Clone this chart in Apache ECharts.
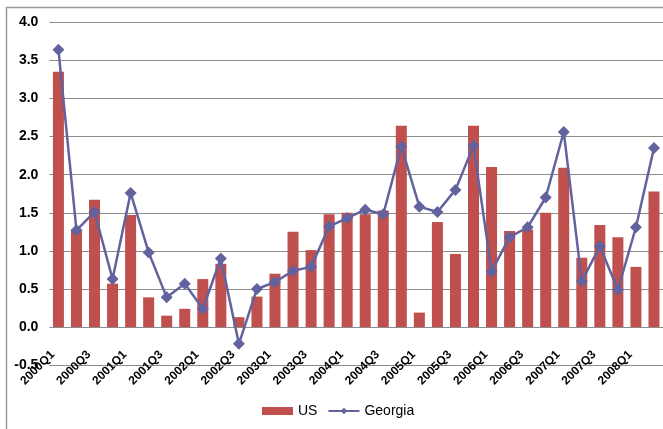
<!DOCTYPE html>
<html>
<head>
<meta charset="utf-8">
<script src="https://cdn.jsdelivr.net/npm/echarts@6/dist/echarts.min.js"></script>
<style>
  html, body { margin: 0; padding: 0; background: #ffffff; }
  #chart { width: 663px; height: 429px; }
</style>
</head>
<body>
<div id="chart"></div>
<script>
// Quarterly growth, US vs Georgia, 2000Q1 - 2008Q2
const quarters = [
  '2000Q1','2000Q2','2000Q3','2000Q4',
  '2001Q1','2001Q2','2001Q3','2001Q4',
  '2002Q1','2002Q2','2002Q3','2002Q4',
  '2003Q1','2003Q2','2003Q3','2003Q4',
  '2004Q1','2004Q2','2004Q3','2004Q4',
  '2005Q1','2005Q2','2005Q3','2005Q4',
  '2006Q1','2006Q2','2006Q3','2006Q4',
  '2007Q1','2007Q2','2007Q3','2007Q4',
  '2008Q1','2008Q2'
];

const usValues = [
  3.35, 1.28, 1.67, 0.57,
  1.47, 0.39, 0.15, 0.24,
  0.63, 0.83, 0.13, 0.40,
  0.70, 1.25, 1.01, 1.48,
  1.50, 1.48, 1.53, 2.64,
  0.19, 1.38, 0.96, 2.64,
  2.10, 1.26, 1.28, 1.50,
  2.09, 0.91, 1.34, 1.18,
  0.79, 1.78
];

const georgiaValues = [
  3.64, 1.27, 1.51, 0.63,
  1.76, 0.98, 0.39, 0.57,
  0.24, 0.90, -0.22, 0.50,
  0.59, 0.74, 0.79, 1.32,
  1.43, 1.54, 1.48, 2.37,
  1.58, 1.51, 1.80, 2.38,
  0.73, 1.18, 1.31, 1.70,
  2.56, 0.60, 1.06, 0.49,
  1.31, 2.35
];

const yTicks = { min: -0.5, max: 4.0, step: 0.5 };

// Plot box; the category labels hang from the zero line, which sits
// one tick step above the bottom edge of the plot.
const plot = { left: 49.4, top: 22.2, width: 619, height: 343 };
const zeroOffset = plot.height * (0 - yTicks.min) / (yTicks.max - yTicks.min);

const chart = echarts.init(document.getElementById('chart'), null, { renderer: 'canvas' });

chart.setOption({
  backgroundColor: '#ffffff',
  animation: false,
  textStyle: { fontFamily: '"Liberation Sans", Arial, sans-serif' },
  graphic: [{
    type: 'rect',
    silent: true,
    z: -1,
    shape: { x: 6.5, y: 7.5, width: 720, height: 500 },
    style: { fill: 'none', stroke: '#9a9a9a', lineWidth: 1.5 }
  }],
  grid: { left: plot.left, top: plot.top, width: plot.width, height: plot.height, containLabel: false },
  legend: {
    bottom: 6,
    left: 257,
    itemGap: 10,
    itemWidth: 31,
    itemHeight: 8,
    textStyle: { fontSize: 14, color: '#000', fontFamily: '"Liberation Sans", Arial, sans-serif' },
    data: [
      { name: 'US', icon: 'rect' },
      { name: 'Georgia' }
    ]
  },
  xAxis: {
    type: 'category',
    data: quarters,
    boundaryGap: true,
    axisLine: { show: false },
    axisTick: { show: false },
    axisLabel: {
      interval: 1,
      rotate: 45,
      margin: 20 - zeroOffset,
      padding: [0, 8, 0, 0],
      color: '#000',
      fontSize: 12,
      fontWeight: 'bold',
      fontFamily: '"Liberation Sans", Arial, sans-serif'
    },
    splitLine: { show: false }
  },
  yAxis: {
    type: 'value',
    min: yTicks.min,
    max: yTicks.max,
    interval: yTicks.step,
    axisLine: { show: false },
    axisTick: { show: false },
    axisLabel: {
      margin: 11,
      color: '#000',
      fontSize: 14,
      fontWeight: 'bold',
      fontFamily: '"Liberation Sans", Arial, sans-serif',
      formatter: v => v.toFixed(1)
    },
    splitLine: { show: true, lineStyle: { color: '#8c8c8c', width: 1 } }
  },
  series: [
    {
      name: 'US',
      type: 'bar',
      data: usValues,
      barWidth: 11,
      itemStyle: { color: '#C0504D' },
      z: 2
    },
    {
      name: 'Georgia',
      type: 'line',
      data: georgiaValues,
      symbol: 'diamond',
      symbolSize: 12,
      itemStyle: { color: '#62629E' },
      lineStyle: { color: '#62629E', width: 2.5 },
      z: 3
    }
  ]
});
</script>
</body>
</html>
